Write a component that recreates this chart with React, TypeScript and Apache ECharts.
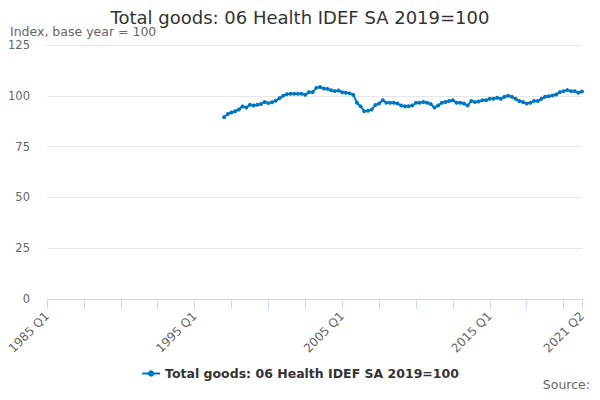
import React, { useEffect, useRef } from "react";
import * as echarts from "echarts";

const TITLE = "Total goods: 06 Health IDEF SA 2019=100";
const SUBTITLE = "Index, base year = 100";
const SERIES_NAME = "Total goods: 06 Health IDEF SA 2019=100";

const FIRST_YEAR = 1985;
const LAST_YEAR = 2021;
const LAST_QUARTER = 2;
const START_INDEX = 48; // 1997 Q1

const X_LABELS = ["1985 Q1", "1995 Q1", "2005 Q1", "2015 Q1", "2021 Q2"];
const Y_TICKS = [0, 25, 50, 75, 100, 125];

// Quarterly values from 1997 Q1 to 2021 Q2
const values: number[] = [
  89.5, 91.0, 91.8, 92.4, 93.3, 94.8, 94.2, 95.6, 95.2, 95.6,
  96.0, 97.0, 96.4, 96.8, 97.6, 98.8, 100.0, 100.8, 101.0, 101.0,
  101.0, 101.0, 100.5, 101.8, 101.8, 103.9, 104.3, 103.6, 103.4, 102.7,
  102.3, 102.6, 101.7, 101.5, 101.2, 100.5, 96.6, 94.8, 92.4, 92.6,
  93.2, 95.5, 96.2, 97.8, 96.6, 96.6, 96.6, 96.2, 95.2, 94.9,
  94.9, 95.2, 96.6, 96.6, 96.9, 96.6, 96.0, 94.2, 95.2, 96.6,
  97.0, 97.4, 97.8, 96.6, 96.6, 96.2, 95.2, 97.4, 96.9, 97.2,
  97.8, 97.8, 98.5, 98.5, 99.0, 98.5, 99.5, 100.0, 99.5, 98.5,
  97.4, 96.9, 96.2, 96.6, 97.4, 97.4, 98.5, 99.5, 99.8, 100.1,
  100.6, 101.8, 102.3, 102.8, 102.3, 102.3, 101.5, 102.1,
];

function buildCategories(): string[] {
  const out: string[] = [];
  for (let y = FIRST_YEAR; y <= LAST_YEAR; y++) {
    for (let q = 1; q <= 4; q++) {
      if (y === LAST_YEAR && q > LAST_QUARTER) break;
      out.push(`${y} Q${q}`);
    }
  }
  return out;
}

export default function App() {
  const ref = useRef<HTMLDivElement>(null);

  useEffect(() => {
    if (!ref.current) return;
    const chart = echarts.init(ref.current, null, { renderer: "svg" });
    const categories = buildCategories();
    const lastIdx = categories.length - 1;
    const seriesData: (number | null)[] = categories.map((_, i) =>
      i >= START_INDEX && i - START_INDEX < values.length ? values[i - START_INDEX] : null
    );
    const font = "DejaVu Sans, sans-serif";

    chart.setOption({
      animation: false,
      backgroundColor: "#ffffff",
      title: [
        {
          text: TITLE,
          left: "center",
          top: 3,
          textStyle: { fontFamily: font, fontSize: 18, fontWeight: "normal", color: "#333333" },
        },
        {
          text: SUBTITLE,
          left: 5,
          top: 20,
          textStyle: { fontFamily: font, fontSize: 12.5, fontWeight: "normal", color: "#666666" },
        },
        {
          text: "Source:",
          right: 5,
          top: 373,
          textStyle: { fontFamily: font, fontSize: 12.5, fontWeight: "normal", color: "#666666" },
        },
      ],
      legend: {
        bottom: 15,
        left: "center",
        itemWidth: 18,
        itemHeight: 8,
        textStyle: { fontFamily: font, fontSize: 12.5, fontWeight: "bold", color: "#333333" },
        data: [SERIES_NAME],
      },
      grid: { left: 47, right: 18, top: 45, bottom: 101 },
      xAxis: {
        type: "category",
        data: categories,
        boundaryGap: false,
        axisLine: { lineStyle: { color: "#ccd6eb" } },
        axisTick: {
          length: 10,
          lineStyle: { color: "#ccd6eb" },
          interval: (i: number) => i % 10 === 0 || i === lastIdx,
        },
        axisLabel: {
          rotate: 45,
          fontFamily: font,
          fontSize: 12,
          color: "#666666",
          margin: 15,
          interval: (i: number, v: string) => X_LABELS.includes(v) && (i % 40 === 0 || i === lastIdx),
        },
        splitLine: { show: false },
      },
      yAxis: {
        type: "value",
        min: Y_TICKS[0],
        max: Y_TICKS[Y_TICKS.length - 1],
        interval: 25,
        axisLine: { show: false },
        axisTick: { show: false },
        axisLabel: { fontFamily: font, fontSize: 11.5, color: "#666666", margin: 17 },
        splitLine: { lineStyle: { color: "#e6e6e6" } },
      },
      series: [
        {
          name: SERIES_NAME,
          type: "line",
          data: seriesData,
          connectNulls: false,
          symbol: "circle",
          symbolSize: 4,
          showSymbol: true,
          showAllSymbol: true,
          itemStyle: { color: "#0077c0" },
          lineStyle: { color: "#0077c0", width: 2 },
        },
      ],
    });

    return () => chart.dispose();
  }, []);

  return <div ref={ref} style={{ width: 600, height: 400, margin: -8 }} />;
}
